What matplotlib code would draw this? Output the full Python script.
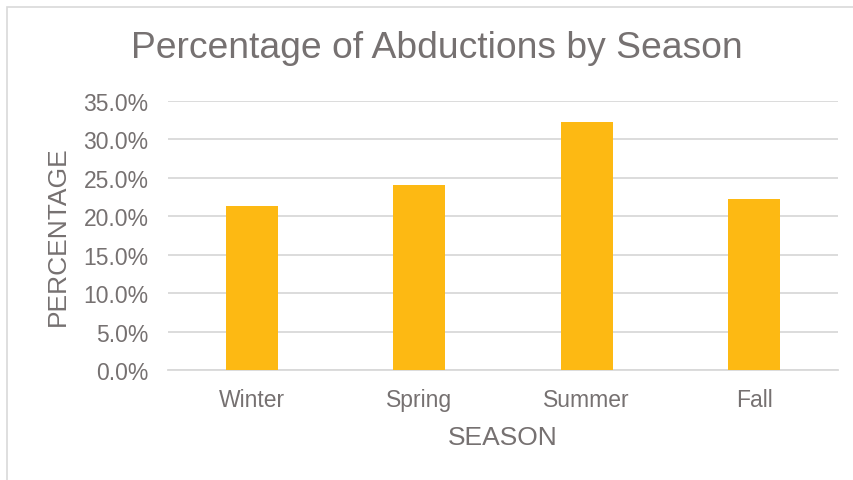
import matplotlib
matplotlib.use("Agg")
import matplotlib.pyplot as plt
from matplotlib.patches import Rectangle
from matplotlib.ticker import FuncFormatter, MultipleLocator

categories = ["Winter", "Spring", "Summer", "Fall"]
percentages = [21.3, 24.1, 32.3, 22.3]

title = "Percentage of Abductions by Season"
xlabel = "SEASON"
ylabel = "PERCENTAGE"

plt.rcParams['font.family'] = ['Liberation Sans', 'DejaVu Sans']
text_color = "#767171"
grid_color = "#D9D9D9"
bar_color = "#FDB913"

fig = plt.figure(figsize=(8.54, 4.81), dpi=100)
ax = fig.add_axes([168/854, 1-371/481, (838-168)/854, (371-102)/481])

x = range(len(categories))
ax.bar(x, percentages, width=0.31, color=bar_color, zorder=3)
ax.set_xlim(-0.5, len(categories)-0.5)
ax.set_ylim(0, 35)
ax.yaxis.set_major_locator(MultipleLocator(5))
ax.yaxis.set_major_formatter(FuncFormatter(lambda v, p: f"{v:.1f}%"))
ax.set_xticks(list(x))
ax.set_xticklabels(categories)
ax.grid(axis='y', color=grid_color, linewidth=1.3, zorder=0)
for s in ['top', 'right', 'left']:
    ax.spines[s].set_visible(False)
ax.spines['bottom'].set_color(grid_color)
ax.spines['bottom'].set_linewidth(1.3)
ax.tick_params(axis='both', length=0, colors=text_color)
ax.tick_params(axis='y', pad=14, labelsize=16.5)
ax.tick_params(axis='x', pad=13, labelsize=16.5)
ax.set_xlabel(xlabel, fontsize=19, color=text_color, labelpad=10)
ax.set_ylabel(ylabel, fontsize=19, color=text_color, labelpad=10)
fig.text(437/854, 1-48/481, title, fontsize=26.8, color=text_color, ha='center', va='center')

fig.patches.append(Rectangle((7/854, -0.1), 1.2, 1-8/481+0.1, transform=fig.transFigure,
                             fill=False, edgecolor="#D9D9D9", linewidth=1.2))

fig.savefig("out.png", dpi=100)
